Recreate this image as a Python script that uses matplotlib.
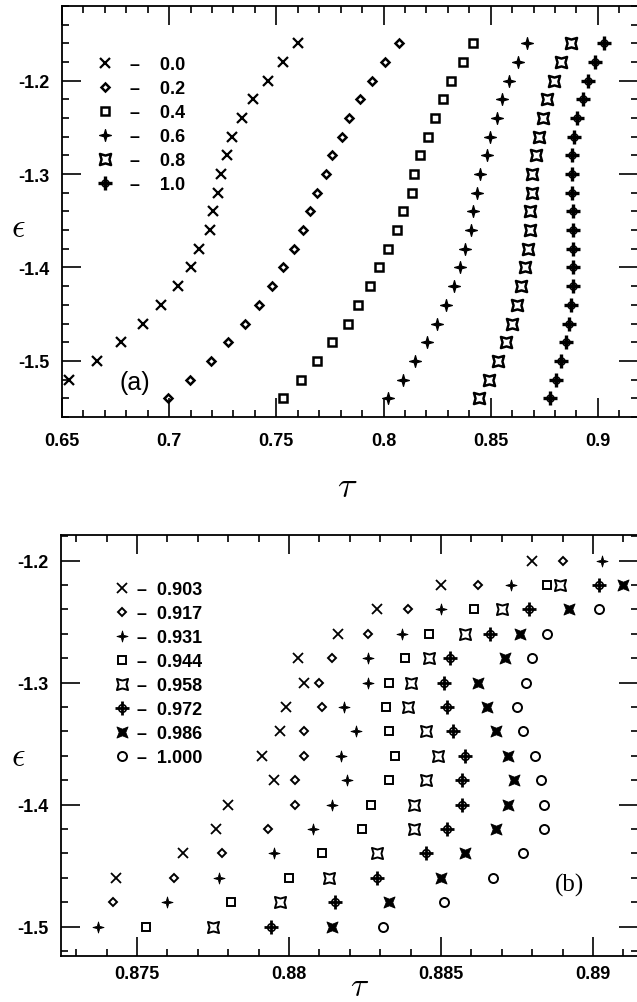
import numpy as np
import matplotlib
matplotlib.use("Agg")
import matplotlib.pyplot as plt
from matplotlib.path import Path
from matplotlib.ticker import MultipleLocator, FuncFormatter
from matplotlib.legend_handler import HandlerTuple

plt.rcParams['font.family'] = ['Liberation Sans', 'DejaVu Sans']
plt.rcParams['axes.unicode_minus'] = False
plt.rcParams['mathtext.fontset'] = 'cm'

# ---------------- data: panel (a) ----------------
labels_a = ["0.0", "0.2", "0.4", "0.6", "0.8", "1.0"]
eps_a = [-1.16, -1.18, -1.20, -1.22, -1.24, -1.26, -1.28, -1.30, -1.32, -1.34,
         -1.36, -1.38, -1.40, -1.42, -1.44, -1.46, -1.48, -1.50, -1.52, -1.54]
tau_a_00 = [0.7603, 0.7533, 0.7459, 0.7393, 0.7341, 0.7294, 0.7271, 0.7243, 0.7229, 0.7206,
            0.7192, 0.7140, 0.7103, 0.7039, 0.6963, 0.6879, 0.6776, 0.6664, 0.6533]
tau_a_02 = [0.8070, 0.8009, 0.7944, 0.7888, 0.7841, 0.7804, 0.7762, 0.7734, 0.7692, 0.7659,
            0.7626, 0.7584, 0.7533, 0.7481, 0.7421, 0.7355, 0.7276, 0.7196, 0.7098, 0.6995]
tau_a_04 = [0.8416, 0.8369, 0.8313, 0.8276, 0.8238, 0.8206, 0.8168, 0.8140, 0.8131, 0.8093,
            0.8065, 0.8023, 0.7981, 0.7939, 0.7883, 0.7832, 0.7762, 0.7692, 0.7617, 0.7533]
tau_a_06 = [0.8668, 0.8626, 0.8584, 0.8551, 0.8528, 0.8495, 0.8481, 0.8449, 0.8435, 0.8416,
            0.8407, 0.8379, 0.8355, 0.8327, 0.8290, 0.8248, 0.8201, 0.8145, 0.8089, 0.8019]
tau_a_08 = [0.8874, 0.8827, 0.8794, 0.8762, 0.8743, 0.8724, 0.8710, 0.8692, 0.8692, 0.8682,
            0.8682, 0.8673, 0.8659, 0.8640, 0.8621, 0.8598, 0.8570, 0.8533, 0.8491, 0.8444]
tau_a_10 = [0.9028, 0.8986, 0.8953, 0.8930, 0.8902, 0.8888, 0.8879, 0.8879, 0.8879, 0.8883,
            0.8883, 0.8883, 0.8883, 0.8883, 0.8874, 0.8864, 0.8850, 0.8827, 0.8804, 0.8776]

# ---------------- data: panel (b) ----------------
labels_b = ["0.903", "0.917", "0.931", "0.944", "0.958", "0.972", "0.986", "1.000"]
eps_b_0903 = [-1.20, -1.22, -1.24, -1.26, -1.28, -1.30, -1.32, -1.34, -1.36, -1.38, -1.40, -1.42, -1.44, -1.46]
tau_b_0903 = [0.8880, 0.8850, 0.8829, 0.8816, 0.8803, 0.8805, 0.8799, 0.8797, 0.8791, 0.8795, 0.8780, 0.8776, 0.8765, 0.8743]
eps_b_0917 = [-1.20, -1.22, -1.24, -1.26, -1.28, -1.30, -1.32, -1.34, -1.36, -1.38, -1.40, -1.42, -1.44, -1.46, -1.48]
tau_b_0917 = [0.8890, 0.8862, 0.8839, 0.8826, 0.8814, 0.8810, 0.8811, 0.8805, 0.8805, 0.8802, 0.8802, 0.8793, 0.8778, 0.8762, 0.8742]
eps_b_0931 = [-1.20, -1.22, -1.24, -1.26, -1.28, -1.30, -1.32, -1.34, -1.36, -1.38, -1.40, -1.42, -1.44, -1.46, -1.48, -1.50]
tau_b_0931 = [0.8903, 0.8873, 0.8850, 0.8837, 0.8826, 0.8826, 0.8818, 0.8822, 0.8817, 0.8819, 0.8814, 0.8808, 0.8795, 0.8777, 0.8760, 0.8737]
eps_b_0944 = [-1.22, -1.24, -1.26, -1.28, -1.30, -1.32, -1.34, -1.36, -1.38, -1.40, -1.42, -1.44, -1.46, -1.48, -1.50]
tau_b_0944 = [0.8885, 0.8861, 0.8846, 0.8838, 0.8833, 0.8832, 0.8833, 0.8835, 0.8833, 0.8827, 0.8824, 0.8811, 0.8800, 0.8781, 0.8753]
eps_b_0958 = [-1.22, -1.24, -1.26, -1.28, -1.30, -1.32, -1.34, -1.36, -1.38, -1.40, -1.42, -1.44, -1.46, -1.48, -1.50]
tau_b_0958 = [0.8889, 0.8870, 0.8858, 0.8846, 0.8840, 0.8839, 0.8845, 0.8849, 0.8845, 0.8841, 0.8841, 0.8829, 0.8813, 0.8797, 0.8775]
eps_b_0972 = [-1.22, -1.24, -1.26, -1.28, -1.30, -1.32, -1.34, -1.36, -1.38, -1.40, -1.42, -1.44, -1.46, -1.48, -1.50]
tau_b_0972 = [0.8902, 0.8879, 0.8866, 0.8853, 0.8851, 0.8852, 0.8854, 0.8858, 0.8857, 0.8857, 0.8852, 0.8845, 0.8829, 0.8815, 0.8794]
eps_b_0986 = [-1.22, -1.24, -1.26, -1.28, -1.30, -1.32, -1.34, -1.36, -1.38, -1.40, -1.42, -1.44, -1.46, -1.48, -1.50]
tau_b_0986 = [0.8910, 0.8892, 0.8876, 0.8871, 0.8862, 0.8865, 0.8868, 0.8872, 0.8874, 0.8872, 0.8868, 0.8858, 0.8850, 0.8833, 0.8814]
eps_b_1000 = [-1.24, -1.26, -1.28, -1.30, -1.32, -1.34, -1.36, -1.38, -1.40, -1.42, -1.44, -1.46, -1.48, -1.50]
tau_b_1000 = [0.8902, 0.8885, 0.8880, 0.8878, 0.8875, 0.8877, 0.8881, 0.8883, 0.8884, 0.8884, 0.8877, 0.8867, 0.8851, 0.8831]


# ---------------- marker shapes ----------------
def star_path(n, inner, rot_deg=0.0):
    ang = np.arange(2 * n) * np.pi / n + np.pi / 2 + np.deg2rad(rot_deg)
    r = np.where(np.arange(2 * n) % 2 == 0, 1.0, inner)
    verts = np.column_stack([r * np.cos(ang), r * np.sin(ang)])
    verts = np.vstack([verts, verts[:1]])
    codes = [Path.MOVETO] + [Path.LINETO] * (2 * n - 1) + [Path.CLOSEPOLY]
    return Path(verts, codes)


STAR4 = star_path(4, 0.30)          # filled four-point star
STAR4X = star_path(4, 0.50, 45)     # open star with points at corners
STAR4XF = star_path(4, 0.42, 45)    # filled fat X

fig = plt.figure(figsize=(6.37, 10.03), dpi=100)
axA = fig.add_axes([0.0973, 0.5833, 0.9042, 0.4098])
axB = fig.add_axes([0.0958, 0.0459, 0.9058, 0.4197])

K = dict(color='black', linestyle='none')
HM = {tuple: HandlerTuple(ndivide=1)}

# ---------------- panel (a) ----------------
hA = []
hA.append(axA.plot(tau_a_00, eps_a[:len(tau_a_00)], marker='x', ms=7.5, mew=1.6, **K)[0])
hA.append(axA.plot(tau_a_02, eps_a, marker='D', ms=4.1, mew=1.8, mfc='none', **K)[0])
hA.append(axA.plot(tau_a_04, eps_a, marker='s', ms=6.0, mew=1.8, mfc='none', **K)[0])
hA.append(axA.plot(tau_a_06, eps_a, marker=STAR4, ms=8.5, mew=0.9, mfc='black', **K)[0])
hA.append(axA.plot(tau_a_08, eps_a, marker=STAR4X, ms=8.0, mew=1.8, mfc='none', **K)[0])
c1 = axA.plot(tau_a_10, eps_a, marker='o', ms=5.0, mew=1.2, mfc='none', **K)[0]
c2 = axA.plot(tau_a_10, eps_a, marker='+', ms=9.5, mew=2.4, **K)[0]
hA.append((c1, c2))

axA.set_xlim(0.65, 0.9187)
axA.set_ylim(-1.56, -1.12)
axA.xaxis.set_major_locator(MultipleLocator(0.05))
axA.xaxis.set_minor_locator(MultipleLocator(0.01))
axA.yaxis.set_major_locator(MultipleLocator(0.1))
axA.yaxis.set_minor_locator(MultipleLocator(0.02))

axA.legend(hA, ["\u2013    " + s for s in labels_a], loc='upper left',
           bbox_to_anchor=(0.059, 0.878), frameon=False, borderpad=0,
           borderaxespad=0, handlelength=1.0, handletextpad=0.9,
           labelspacing=0.39, prop=dict(family='Liberation Sans', weight='bold', size=13),
           handler_map=HM)
axA.text(0.127, 0.085, "(a)", transform=axA.transAxes, ha='center', va='center',
         fontsize=18, family='Liberation Sans')
axA.set_xlabel(r'$\tau$', fontsize=26, va='center')
axA.xaxis.set_label_coords(0.495, -0.168)
axA.set_ylabel(r'$\epsilon$', fontsize=24, rotation=0, va='center', ha='center')
axA.yaxis.set_label_coords(-0.076, 0.462)

# ---------------- panel (b) ----------------
hB = []
hB.append(axB.plot(tau_b_0903, eps_b_0903, marker='x', ms=7.5, mew=1.3, **K)[0])
hB.append(axB.plot(tau_b_0917, eps_b_0917, marker='D', ms=4.2, mew=1.4, mfc='none', **K)[0])
hB.append(axB.plot(tau_b_0931, eps_b_0931, marker=STAR4, ms=8.0, mew=0.6, mfc='black', **K)[0])
hB.append(axB.plot(tau_b_0944, eps_b_0944, marker='s', ms=6.2, mew=1.4, mfc='none', **K)[0])
hB.append(axB.plot(tau_b_0958, eps_b_0958, marker=STAR4X, ms=8.0, mew=1.4, mfc='none', **K)[0])
d1 = axB.plot(tau_b_0972, eps_b_0972, marker='o', ms=5.5, mew=1.2, mfc='none', **K)[0]
d2 = axB.plot(tau_b_0972, eps_b_0972, marker='+', ms=9.5, mew=2.0, **K)[0]
hB.append((d1, d2))
hB.append(axB.plot(tau_b_0986, eps_b_0986, marker=STAR4XF, ms=8.0, mew=0.6, mfc='black', **K)[0])
hB.append(axB.plot(tau_b_1000, eps_b_1000, marker='o', ms=6.5, mew=1.4, mfc='none', **K)[0])

axB.set_xlim(0.8725, 0.89148)
axB.set_ylim(-1.524, -1.179)
axB.xaxis.set_major_locator(MultipleLocator(0.005))
axB.xaxis.set_minor_locator(MultipleLocator(0.001))
axB.yaxis.set_major_locator(MultipleLocator(0.1))
axB.yaxis.set_minor_locator(MultipleLocator(0.02))

axB.legend(hB, ["\u2013  " + s for s in labels_b], loc='upper left',
           bbox_to_anchor=(0.090, 0.891), frameon=False, borderpad=0,
           borderaxespad=0, handlelength=1.0, handletextpad=0.33,
           labelspacing=0.39, prop=dict(family='Liberation Sans', weight='bold', size=13),
           handler_map=HM)
axB.text(0.882, 0.171, "(b)", transform=axB.transAxes, ha='center', va='center',
         fontsize=18, family='Liberation Serif')
axB.set_xlabel(r'$\tau$', fontsize=24, va='center')
axB.xaxis.set_label_coords(0.518, -0.072)
axB.set_ylabel(r'$\epsilon$', fontsize=24, rotation=0, va='center', ha='center')
axB.yaxis.set_label_coords(-0.0745, 0.473)

fmt = FuncFormatter(lambda v, p: ("%g" % round(v, 6)))
for ax, xpad in ((axA, 11), (axB, 6.5)):
    ax.xaxis.set_major_formatter(fmt)
    ax.yaxis.set_major_formatter(fmt)
    ax.tick_params(which='both', direction='in', top=True, right=True, width=1.2, color='black')
    ax.tick_params(which='major', length=14)
    ax.tick_params(which='minor', length=5)
    ax.tick_params(axis='x', which='major', pad=xpad)
    ax.tick_params(axis='y', which='major', pad=9)
    for lab in ax.get_xticklabels() + ax.get_yticklabels():
        lab.set_fontweight('bold')
        lab.set_fontsize(13)
    for sp in ax.spines.values():
        sp.set_linewidth(1.3)

fig.savefig("out.png", dpi=100)
